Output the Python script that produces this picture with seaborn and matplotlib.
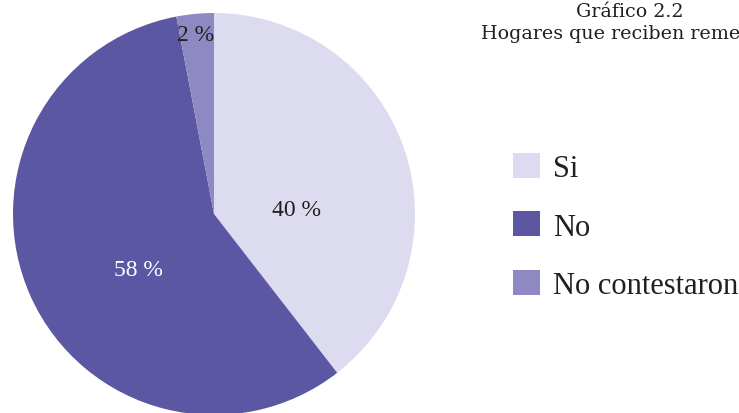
import matplotlib
matplotlib.use("Agg")
import matplotlib.pyplot as plt
import seaborn as sns

sns.set_theme(style="white")
plt.rcParams['font.family'] = ['Liberation Serif', 'DejaVu Serif']

categories = ["Si", "No", "No contestaron"]
values = [39.5, 57.5, 3.0]
value_labels = ["40 %", "58 %", "2 %"]
title_lines = ["Gráfico 2.2", "Hogares que reciben remesas"]

colors = ["#DDDBEF", "#5B57A3", "#8F89C3"]
label_colors = ["#231f20", "#ffffff", "#231f20"]
label_pos = [(0.408, 0.02), (-0.378, -0.274), (-0.09, 0.895)]

W, H = 739, 414
fig = plt.figure(figsize=(W / 100, H / 100), dpi=100)
fig.patch.set_facecolor("white")

cx, cy, R = 214, 215, 201
ax = fig.add_axes([(cx - R) / W, (H - cy - R) / H, 2 * R / W, 2 * R / H])
wedges, _ = ax.pie(values, colors=colors, startangle=90, counterclock=False,
                   radius=1, wedgeprops=dict(linewidth=0))
ax.set_xlim(-1, 1)
ax.set_ylim(-1, 1)
ax.set_aspect("equal")
ax.axis("off")
ax.patch.set_alpha(0)

for txt, (x, y), c in zip(value_labels, label_pos, label_colors):
    ax.text(x, y, txt, ha="center", va="center", fontsize=17, color=c)

title_font = ["DejaVu Serif"]
fig.text(630 / W, 1 - 17 / H, title_lines[0], ha="center", va="baseline",
         fontsize=13.7, color="#231f20", family=title_font)
fig.text(626 / W, 1 - 39 / H, title_lines[1], ha="center", va="baseline",
         fontsize=13.7, color="#231f20", family=title_font)

leg = fig.legend(wedges, categories, loc="center left",
                 bbox_to_anchor=(513 / W, (H - 227.5) / H),
                 frameon=False, fontsize=22, handlelength=0.88, handleheight=0.88,
                 handletextpad=0.42, labelspacing=0.93, borderpad=0, borderaxespad=0)
for t in leg.get_texts():
    t.set_color("#231f20")

fig.savefig("out.png", dpi=100)
